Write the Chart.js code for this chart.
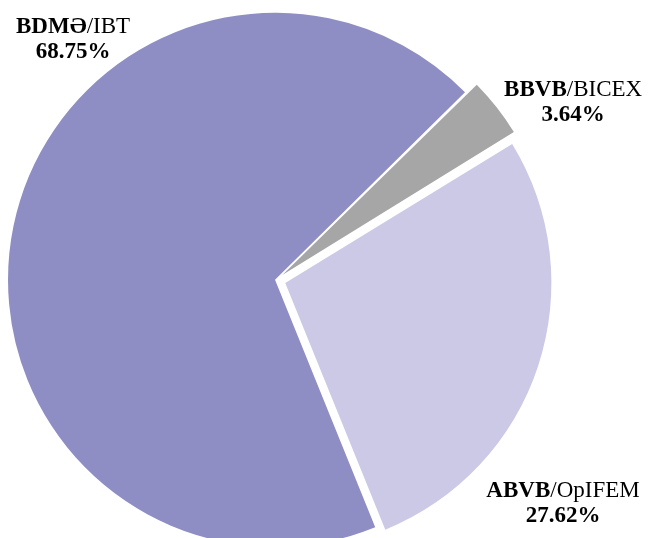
<!DOCTYPE html>
<html>
<head>
<meta charset="utf-8">
<script src="https://cdn.jsdelivr.net/npm/chart.js@4"></script>
<style>
  html, body { margin: 0; padding: 0; background: #fff; overflow: hidden; width: 648px; height: 538px; }
  canvas { display: block; }
</style>
</head>
<body>
<canvas id="myChart" width="648" height="560"></canvas>
<script>
// Data
const boldNames = ['ABVB', 'BDMƏ', 'BBVB'];
const restNames = ['/OpIFEM', '/IBT', '/BICEX'];
const shares = [27.62, 68.75, 3.64];
const sliceColors = ['#cbc9e6', '#8f8ec4', '#a6a6a6'];

// label anchors relative to pie centre, in units of radius
const labelPos = [
  { x: 1.079, y: 0.816 },
  { x: -0.763, y: -0.929 },
  { x: 1.117, y: -0.692 }
];

const FONT_SIZE = 23;
const FAMILY = '"Liberation Serif", "Times New Roman", serif';

const pieLabels = {
  id: 'pieLabels',
  afterDraw(chart) {
    const ctx = chart.ctx;
    const meta = chart.getDatasetMeta(0);
    const cx = (chart.chartArea.left + chart.chartArea.right) / 2;
    const cy = (chart.chartArea.top + chart.chartArea.bottom) / 2;
    const r = meta.data[0].outerRadius;
    ctx.save();
    ctx.fillStyle = '#000';
    ctx.textBaseline = 'alphabetic';
    ctx.textAlign = 'left';
    shares.forEach((v, i) => {
      const x = cx + labelPos[i].x * r;
      const y = cy + labelPos[i].y * r;
      const bold = 'bold ' + FONT_SIZE + 'px ' + FAMILY;
      const normal = FONT_SIZE + 'px ' + FAMILY;
      ctx.font = bold;
      const w1 = ctx.measureText(boldNames[i]).width;
      ctx.font = normal;
      const w2 = ctx.measureText(restNames[i]).width;
      let sx = x - (w1 + w2) / 2;
      ctx.font = bold;
      ctx.fillText(boldNames[i], sx, y);
      ctx.font = normal;
      ctx.fillText(restNames[i], sx + w1, y);
      ctx.font = bold;
      const pct = v.toFixed(2) + '%';
      const w3 = ctx.measureText(pct).width;
      ctx.fillText(pct, x - w3 / 2, y + 25);
    });
    ctx.restore();
  }
};

const ctx = document.getElementById('myChart').getContext('2d');
new Chart(ctx, {
  type: 'pie',
  data: {
    labels: boldNames.map((b, i) => b + restNames[i]),
    datasets: [{
      data: shares,
      backgroundColor: sliceColors,
      borderWidth: 0,
      offset: [39, 4, 32]
    }]
  },
  options: {
    responsive: false,
    animation: false,
    rotation: 58.5,
    radius: 266,
    layout: { padding: { left: 0, right: 96, top: 0, bottom: 0 } },
    plugins: {
      legend: { display: false },
      tooltip: { enabled: false }
    }
  },
  plugins: [pieLabels]
});
</script>
</body>
</html>
